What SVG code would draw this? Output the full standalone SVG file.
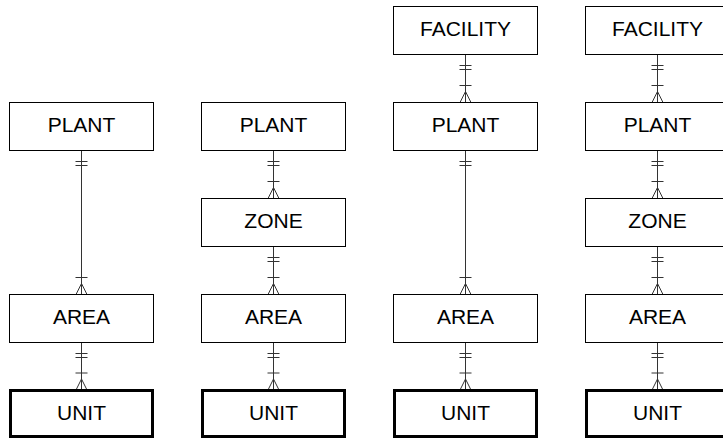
<svg xmlns="http://www.w3.org/2000/svg" width="723" height="439" viewBox="0 0 723 439">
<style>
.box{fill:#fff;stroke:#000;stroke-width:1}
.unit{fill:#fff;stroke:#000;stroke-width:3}
.lbl{font-family:"Liberation Sans",Arial,sans-serif;font-size:21px;fill:#000;text-anchor:middle}
.conn{stroke:#333;stroke-width:1;fill:none;marker-start:url(#one);marker-end:url(#many)}
.mk{stroke:#333;stroke-width:1;fill:none}
</style>
<defs>
<marker id="one" markerUnits="userSpaceOnUse" viewBox="-20 -10 40 20" markerWidth="40" markerHeight="20" refX="0" refY="0" orient="auto" overflow="visible">
<path class="mk" d="M11,-6V6M15,-6V6"/>
</marker>
<marker id="many" markerUnits="userSpaceOnUse" viewBox="-20 -10 40 20" markerWidth="40" markerHeight="20" refX="0" refY="0" orient="auto" overflow="visible">
<path class="mk" d="M-17,-6V6M-11,0L0,-5.5M-11,0L0,5.5"/>
</marker>
</defs>
<g id="connectors">
<line class="conn" x1="81.5" y1="150.5" x2="81.5" y2="294.5"/>
<line class="conn" x1="81.5" y1="342.5" x2="81.5" y2="390"/>
<line class="conn" x1="273.5" y1="150.5" x2="273.5" y2="198.5"/>
<line class="conn" x1="273.5" y1="246.5" x2="273.5" y2="294.5"/>
<line class="conn" x1="273.5" y1="342.5" x2="273.5" y2="390"/>
<line class="conn" x1="465.5" y1="54.5" x2="465.5" y2="102.5"/>
<line class="conn" x1="465.5" y1="150.5" x2="465.5" y2="294.5"/>
<line class="conn" x1="465.5" y1="342.5" x2="465.5" y2="390"/>
<line class="conn" x1="657.5" y1="54.5" x2="657.5" y2="102.5"/>
<line class="conn" x1="657.5" y1="150.5" x2="657.5" y2="198.5"/>
<line class="conn" x1="657.5" y1="246.5" x2="657.5" y2="294.5"/>
<line class="conn" x1="657.5" y1="342.5" x2="657.5" y2="390"/>
</g>
<g id="c1-plant"><rect class="box" x="9.5" y="102.5" width="144" height="48"/><text class="lbl" x="81.5" y="132">PLANT</text></g>
<g id="c1-area"><rect class="box" x="9.5" y="294.5" width="144" height="48"/><text class="lbl" x="81.5" y="324">AREA</text></g>
<g id="c1-unit"><rect class="unit" x="10.5" y="390.5" width="142" height="46"/><text class="lbl" x="81.5" y="420">UNIT</text></g>
<g id="c2-plant"><rect class="box" x="201.5" y="102.5" width="144" height="48"/><text class="lbl" x="273.5" y="132">PLANT</text></g>
<g id="c2-zone"><rect class="box" x="201.5" y="198.5" width="144" height="48"/><text class="lbl" x="273.5" y="228">ZONE</text></g>
<g id="c2-area"><rect class="box" x="201.5" y="294.5" width="144" height="48"/><text class="lbl" x="273.5" y="324">AREA</text></g>
<g id="c2-unit"><rect class="unit" x="202.5" y="390.5" width="142" height="46"/><text class="lbl" x="273.5" y="420">UNIT</text></g>
<g id="c3-facility"><rect class="box" x="393.5" y="6.5" width="144" height="48"/><text class="lbl" x="465.5" y="36">FACILITY</text></g>
<g id="c3-plant"><rect class="box" x="393.5" y="102.5" width="144" height="48"/><text class="lbl" x="465.5" y="132">PLANT</text></g>
<g id="c3-area"><rect class="box" x="393.5" y="294.5" width="144" height="48"/><text class="lbl" x="465.5" y="324">AREA</text></g>
<g id="c3-unit"><rect class="unit" x="394.5" y="390.5" width="142" height="46"/><text class="lbl" x="465.5" y="420">UNIT</text></g>
<g id="c4-facility"><rect class="box" x="585.5" y="6.5" width="144" height="48"/><text class="lbl" x="657.5" y="36">FACILITY</text></g>
<g id="c4-plant"><rect class="box" x="585.5" y="102.5" width="144" height="48"/><text class="lbl" x="657.5" y="132">PLANT</text></g>
<g id="c4-zone"><rect class="box" x="585.5" y="198.5" width="144" height="48"/><text class="lbl" x="657.5" y="228">ZONE</text></g>
<g id="c4-area"><rect class="box" x="585.5" y="294.5" width="144" height="48"/><text class="lbl" x="657.5" y="324">AREA</text></g>
<g id="c4-unit"><rect class="unit" x="586.5" y="390.5" width="142" height="46"/><text class="lbl" x="657.5" y="420">UNIT</text></g>
</svg>
